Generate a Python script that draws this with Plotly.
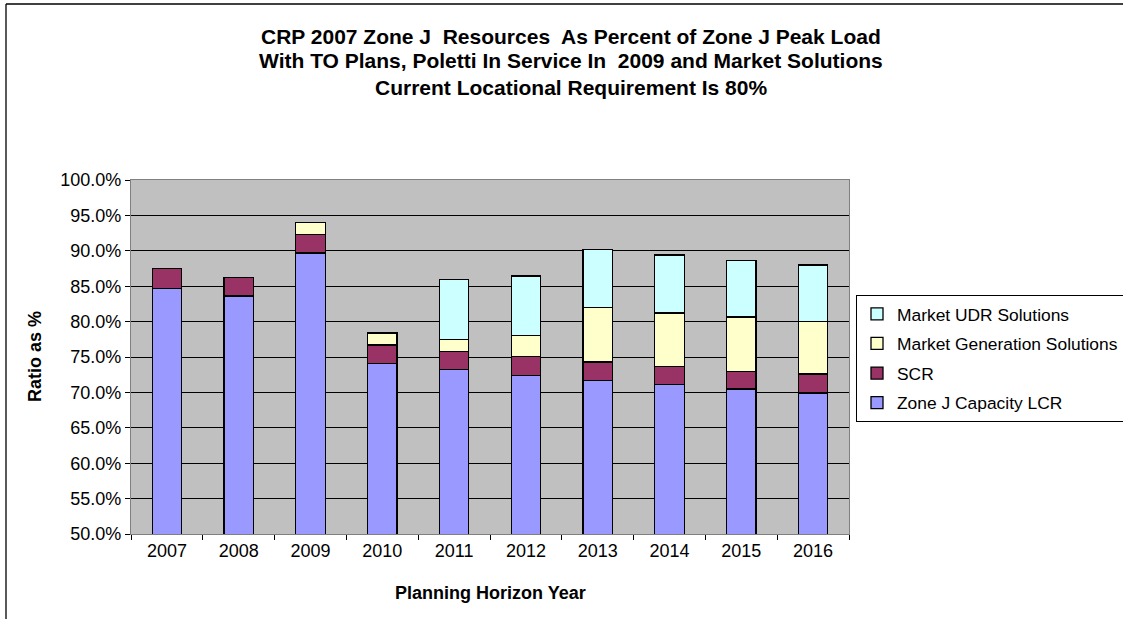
import plotly.graph_objects as go

years = ["2007", "2008", "2009", "2010", "2011", "2012", "2013", "2014", "2015", "2016"]
lcr = [84.7, 83.6, 89.7, 74.1, 73.2, 72.4, 71.7, 71.1, 70.5, 69.9]
scr = [2.8, 2.6, 2.6, 2.6, 2.6, 2.65, 2.6, 2.6, 2.45, 2.7]
gen = [0, 0, 1.7, 1.7, 1.7, 3.0, 7.7, 7.5, 7.7, 7.4]
udr = [0, 0, 0, 0, 8.4, 8.4, 8.2, 8.2, 8.0, 8.0]
ytick_vals = [50, 55, 60, 65, 70, 75, 80, 85, 90, 95, 100]
ytick_text = ["%.1f%%" % v for v in ytick_vals]

series = [
    ("Zone J Capacity LCR", lcr, "#9999FF"),
    ("SCR", scr, "#993366"),
    ("Market Generation Solutions", gen, "#FFFFCC"),
    ("Market UDR Solutions", udr, "#CCFFFF"),
]

FONT = "Liberation Sans, Arial, sans-serif"
fig = go.Figure()
n = len(series)
for i, (name, vals, col) in enumerate(series):
    fig.add_trace(go.Bar(
        x=years, y=vals, name=name, legendgroup="g%d" % i, legendrank=n - i,
        marker=dict(color=col, line=dict(color="black", width=1.3)),
        width=0.41,
    ))

L, R, T, B = 131, 849, 180, 534
W, H = 1123, 619
pw, ph = R - L, B - T

def px(x):
    return (x - L) / pw

def py(y):
    return (B - y) / ph

fig.update_layout(
    width=W, height=H,
    margin=dict(l=L, r=W - R, t=T, b=H - B, pad=0, autoexpand=False),
    barmode="stack",
    plot_bgcolor="#C0C0C0",
    paper_bgcolor="white",
    font=dict(family=FONT, size=18, color="black"),
    showlegend=True,
    legend=dict(
        traceorder="grouped",
        x=px(856), y=py(295), xanchor="left", yanchor="top",
        bgcolor="white", bordercolor="black", borderwidth=1,
        font=dict(family=FONT, size=17.4, color="black"),
        tracegroupgap=4,
    ),
    xaxis=dict(
        showgrid=False, ticks="outside", tickson="boundaries", ticklen=5,
        tickcolor="black", showline=True, linecolor="#808080", linewidth=1.3,
        mirror=True, tickfont=dict(size=18),
    ),
    yaxis=dict(
        range=[50, 100], tickvals=ytick_vals, ticktext=ytick_text,
        showgrid=True, gridcolor="black", gridwidth=1,
        ticks="outside", ticklen=5, tickcolor="black",
        showline=True, linecolor="#808080", linewidth=1.3, mirror=True,
        tickfont=dict(size=18), zeroline=False,
    ),
)

titles = [
    ("CRP 2007 Zone J  Resources  As Percent of Zone J Peak Load", 36),
    ("With TO Plans, Poletti In Service In  2009 and Market Solutions", 61),
    ("Current Locational Requirement Is 80%", 87),
]
for txt, yy in titles:
    fig.add_annotation(text="<b>%s</b>" % txt.replace("  ", "&nbsp; "), xref="paper", yref="paper",
                       x=px(571), y=py(yy), xanchor="center", yanchor="middle",
                       showarrow=False, font=dict(family=FONT, size=21))

fig.add_annotation(text="<b>Planning Horizon Year</b>", xref="paper", yref="paper",
                   x=px(490), y=py(593), xanchor="center", yanchor="middle",
                   showarrow=False, font=dict(family=FONT, size=18))
fig.add_annotation(text="<b>Ratio as %</b>", xref="paper", yref="paper",
                   x=px(35), y=py(357), xanchor="center", yanchor="middle",
                   textangle=-90, showarrow=False, font=dict(family=FONT, size=18))

fig.add_shape(type="line", xref="paper", yref="paper",
              x0=px(6), x1=px(6), y0=py(4), y1=py(H + 5), line=dict(color="black", width=1.3))
fig.add_shape(type="line", xref="paper", yref="paper",
              x0=px(6), x1=px(W + 5), y0=py(4), y1=py(4), line=dict(color="black", width=1.3))

fig.write_html("out.html", config={"displayModeBar": False},
               post_script="document.body.style.margin='0';document.body.style.overflow='hidden';")
